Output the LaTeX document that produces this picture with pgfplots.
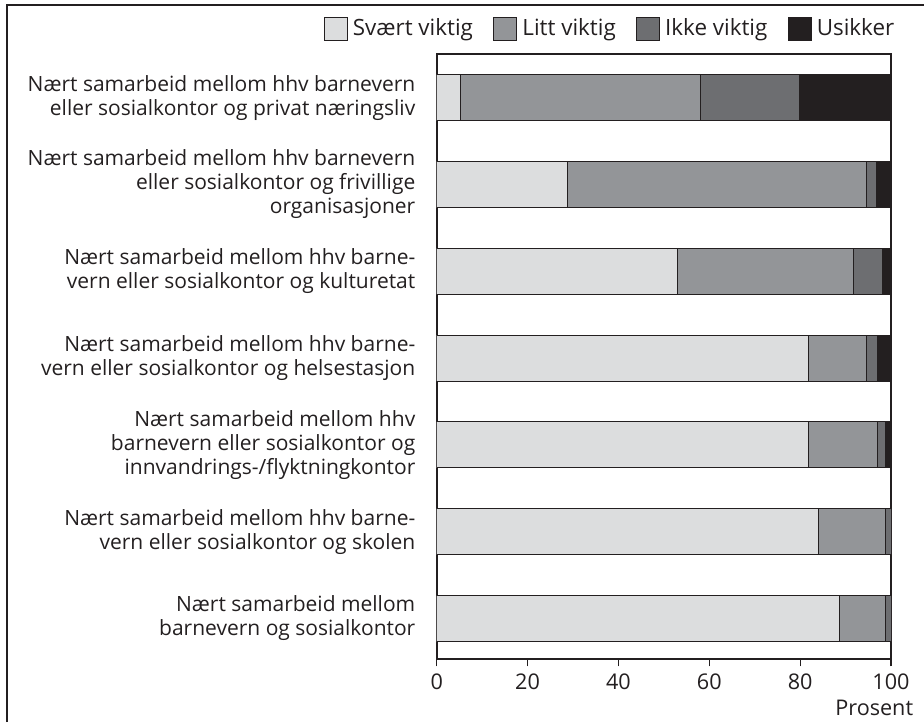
\documentclass[border=0pt]{standalone}
\usepackage{fontspec}
\setmainfont{Open Sans}
\usepackage{pgfplots}
\pgfplotsset{compat=1.18}
\definecolor{svaert}{HTML}{DCDDDE}
\definecolor{litt}{HTML}{939598}
\definecolor{ikke}{HTML}{6D6E71}
\definecolor{usikker}{HTML}{231F20}
\definecolor{frame}{HTML}{231F20}
\begin{document}
\begin{tikzpicture}
\path[use as bounding box] (0,0) rectangle (462pt,361pt);
\draw[frame, line width=1pt] (3.5pt,0pt) -- (3.5pt,358.5pt) -- (462pt,358.5pt);
\begin{axis}[
  at={(218.35pt,31.35pt)}, anchor=south west,
  scale only axis, width=227.15pt, height=302.5pt,
  xbar stacked, bar width=23pt,
  xmin=0, xmax=100, ymin=-0.5, ymax=6.47, y dir=reverse,
  enlarge x limits=false,
  axis line style={line width=1pt, draw=frame},
  xtick={0,20,40,60,80,100}, xtick pos=bottom, tick align=outside,
  major tick length=3.5pt,
  xtick style={line width=0.6pt, draw=frame},
  ytick={0,1,2,3,4,5,6}, ytick style={draw=none},
  yticklabels={
    {Nært samarbeid mellom hhv barnevern\\eller sosialkontor og privat næringsliv},
    {Nært samarbeid mellom hhv barnevern\\eller sosialkontor og frivillige\\organisasjoner},
    {Nært samarbeid mellom hhv barne-\\vern eller sosialkontor og kulturetat},
    {Nært samarbeid mellom hhv barne-\\vern eller sosialkontor og helsestasjon},
    {Nært samarbeid mellom hhv\\barnevern eller sosialkontor og\\innvandrings-/flyktningkontor},
    {Nært samarbeid mellom hhv barne-\\vern eller sosialkontor og skolen},
    {Nært samarbeid mellom\\barnevern og sosialkontor}},
  yticklabel style={align=right, inner sep=0pt, xshift=-7pt, font=\fontsize{10.5}{12}\selectfont, text=frame},
  xticklabel style={font=\fontsize{10.8}{12}\selectfont, text=frame},
  /pgf/number format/assume math mode=true,
  xlabel={Prosent},
  xlabel style={at={(axis description cs:0.8767,0)}, anchor=base west, yshift=-28pt, inner sep=0pt, font=\fontsize{10.8}{12}\selectfont, text=frame},
  legend columns=4,
  legend style={draw=none, fill=none, inner sep=0pt, at={(-0.2496,1.0423)}, anchor=west,
    font=\fontsize{11.2}{12}\selectfont, text=frame,
    nodes={inner sep=0pt, inner xsep=2.6pt},
    /tikz/every even column/.append style={column sep=7.5pt}},
  legend image code/.code={\draw[#1] (0pt,-5.75pt) rectangle (11.5pt,5.75pt);},
  every axis plot/.append style={draw=frame, line width=0.5pt},
]
\addplot[fill=svaert] coordinates {(5.2,0) (28.8,1) (52.9,2) (81.8,3) (81.8,4) (84.1,5) (88.7,6)};
\addplot[fill=litt] coordinates {(52.9,0) (65.9,1) (38.9,2) (12.9,3) (15.2,4) (14.6,5) (10.0,6)};
\addplot[fill=ikke] coordinates {(21.7,0) (2.2,1) (6.4,2) (2.3,3) (1.7,4) (1.3,5) (1.3,6)};
\addplot[fill=usikker] coordinates {(20.2,0) (3.1,1) (1.8,2) (3.0,3) (1.3,4) (0,5) (0,6)};
\legend{Svært viktig, Litt viktig, Ikke viktig, Usikker}
\end{axis}
\end{tikzpicture}
\end{document}
